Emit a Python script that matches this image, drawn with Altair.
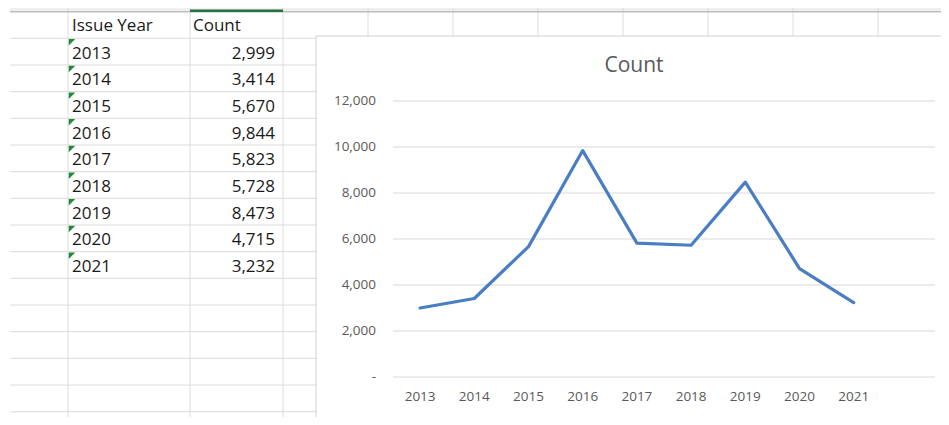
import altair as alt
import pandas as pd

# ---------------- data ----------------
years = [2013, 2014, 2015, 2016, 2017, 2018, 2019, 2020, 2021]
counts = [2999, 3414, 5670, 9844, 5823, 5728, 8473, 4715, 3232]
header_labels = ["Issue Year", "Count"]
y_tick_values = [0, 2000, 4000, 6000, 8000, 10000, 12000]
chart_title = "Count"

# ---------------- layout (page pixels) ----------------
PAGE = 8
VIEW_W, VIEW_H = 933, 409
SHEET_LEFT = 10
COL_EDGES = [68, 190, 283, 368, 453, 538, 623, 708, 793, 878]
ROW_TOP, ROW_H = 11.67, 26.67
N_ROWS = 16
PLOT_L, PLOT_R = 393, 935
N_SLOTS = 10
Y_ZERO_PX, Y_TOP_PX, Y_TOP_VAL = 377, 101, 12000
FONT = "Open Sans"
GRAY_TXT = "#595959"
GRID = "#dcdcdc"

# sheet scales
sx = alt.Scale(domain=[PAGE, PAGE + VIEW_W], nice=False, zero=False)
row_lo = (PAGE - ROW_TOP) / ROW_H
row_hi = (PAGE + VIEW_H - ROW_TOP) / ROW_H
sy = alt.Scale(domain=[row_lo, row_hi], reverse=True, nice=False, zero=False)


def SX(field=None, datum=None):
    if datum is not None:
        return alt.X(datum=datum, type="quantitative", scale=sx, axis=None)
    return alt.X(field, type="quantitative", scale=sx, axis=None)


def SY(field=None, datum=None):
    if datum is not None:
        return alt.Y(datum=datum, type="quantitative", scale=sy, axis=None)
    return alt.Y(field, type="quantitative", scale=sy, axis=None)


one = pd.DataFrame({"k": [0]})
rows_df = pd.DataFrame({"r": list(range(1, N_ROWS))})
cols_df = pd.DataFrame({"c": COL_EDGES})
table_df = pd.DataFrame({
    "year": [str(y) for y in years],
    "count": counts,
    "row": [i + 1.5 for i in range(len(years))],
    "rtop": [i + 1 for i in range(len(years))],
})
head_df = pd.DataFrame({"label": header_labels, "cx": [72, 193], "row": [0.5, 0.5]})

TABLE_FS = 17
header_strip = alt.Chart(one).mark_rect(color="#efefef").encode(
    x=SX(datum=SHEET_LEFT), x2=alt.X2(datum=PAGE + VIEW_W + 20),
    y=SY(datum=-1), y2=alt.Y2(datum=0))
row_lines = alt.Chart(rows_df).mark_rule(color=GRID, strokeWidth=1).encode(
    x=SX(datum=SHEET_LEFT), x2=alt.X2(datum=PAGE + VIEW_W), y=SY("r"))
col_lines = alt.Chart(cols_df).mark_rule(color=GRID, strokeWidth=1).encode(
    x=SX("c"), y=SY(datum=-1), y2=alt.Y2(datum=N_ROWS))
head_border = alt.Chart(one).mark_rule(color="#bdbdbd", strokeWidth=1.5).encode(
    x=SX(datum=SHEET_LEFT), x2=alt.X2(datum=PAGE + VIEW_W), y=SY(datum=0))
green_line = alt.Chart(one).mark_rule(color="#217346", strokeWidth=2.5, yOffset=-1).encode(
    x=SX(datum=COL_EDGES[1]), x2=alt.X2(datum=COL_EDGES[2]), y=SY(datum=0))
head_text = alt.Chart(head_df).mark_text(
    align="left", baseline="middle", font=FONT, fontSize=TABLE_FS, color="#1a1a1a", dy=1
).encode(x=SX("cx"), y=SY("row"), text="label:N")
year_text = alt.Chart(table_df).mark_text(
    align="left", baseline="middle", font=FONT, fontSize=TABLE_FS, color="#1a1a1a", dy=2
).encode(x=SX(datum=72), y=SY("row"), text="year:N")
count_text = alt.Chart(table_df).mark_text(
    align="right", baseline="middle", font=FONT, fontSize=TABLE_FS, color="#1a1a1a", dy=2
).encode(x=SX(datum=275), y=SY("row"), text=alt.Text("count:Q", format=","))
triangles = alt.Chart(table_df).mark_point(
    shape="M-1,-1L1,-1L-1,1Z", filled=True, opacity=1, color="#1e8a3a", size=42,
    xOffset=3.5, yOffset=4
).encode(x=SX(datum=COL_EDGES[0] + 0.5), y=SY("rtop"))

sheet = alt.layer(header_strip, row_lines, col_lines, head_border, green_line,
                  head_text, year_text, count_text, triangles)

# ---------------- chart scales ----------------
ppy = (PLOT_R - PLOT_L) / N_SLOTS
x_first = years[0] - 0.5
x_last = x_first + N_SLOTS
xs = alt.Scale(domain=[x_first - (PLOT_L - PAGE) / ppy,
                       x_first + (PAGE + VIEW_W - PLOT_L) / ppy], nice=False, zero=False)
ppc = (Y_ZERO_PX - Y_TOP_PX) / Y_TOP_VAL
ys = alt.Scale(domain=[-(PAGE + VIEW_H - Y_ZERO_PX) / ppc,
                       Y_TOP_VAL + (Y_TOP_PX - PAGE) / ppc], nice=False, zero=False)


def CX(field=None, datum=None):
    if datum is not None:
        return alt.X(datum=datum, type="quantitative", scale=xs, axis=None)
    return alt.X(field, type="quantitative", scale=xs, axis=None)


def CY(field=None, datum=None):
    if datum is not None:
        return alt.Y(datum=datum, type="quantitative", scale=ys, axis=None)
    return alt.Y(field, type="quantitative", scale=ys, axis=None)


series_df = pd.DataFrame({"year": years, "count": counts})
grid_df = pd.DataFrame({"g": y_tick_values})
xlab_df = pd.DataFrame({"year": years})
title_df = pd.DataFrame({"t": [chart_title]})

AX_FS = 13.5
box = alt.Chart(one).mark_rect(fill="white", stroke="#d0d0d0", strokeWidth=1, clip=True).encode(
    x=alt.value(316 - PAGE), x2=alt.value(VIEW_W + 30),
    y=alt.value(36 - PAGE), y2=alt.value(418 - PAGE))
grid = alt.Chart(grid_df).mark_rule(color="#d9d9d9", strokeWidth=1).encode(
    x=CX(datum=x_first), x2=alt.X2(datum=x_last), y=CY("g"))
ylabels = alt.Chart(grid_df).transform_calculate(
    lab="datum.g == 0 ? '-\u00a0\u00a0' : format(datum.g, ',')"
).mark_text(
    align="right", baseline="middle", font=FONT, fontSize=AX_FS, color=GRAY_TXT, dx=-17
).encode(x=CX(datum=x_first), y=CY("g"), text="lab:N")
xlabels = alt.Chart(xlab_df).mark_text(
    align="center", baseline="middle", font=FONT, fontSize=AX_FS, color=GRAY_TXT, dy=20
).encode(x=CX("year"), y=CY(datum=0), text=alt.Text("year:Q", format="d"))
line = alt.Chart(series_df).mark_line(
    color="#4a7ec4", strokeWidth=3.2, strokeJoin="round", strokeCap="round"
).encode(x=CX("year"), y=CY("count"))
title = alt.Chart(title_df).mark_text(
    font=FONT, fontSize=21, color=GRAY_TXT, align="center", baseline="middle"
).encode(x=alt.value(634 - PAGE), y=alt.value(66 - PAGE), text="t:N")

plot = alt.layer(box, grid, ylabels, xlabels, line, title)

chart = alt.layer(sheet, plot).resolve_scale(
    x="independent", y="independent"
).properties(
    width=VIEW_W, height=VIEW_H, padding=0,
    autosize=alt.AutoSizeParams(type="none"),
    background="white",
).configure_view(stroke=None)

chart.save("out.html", embed_options={"renderer": "svg", "actions": False})
